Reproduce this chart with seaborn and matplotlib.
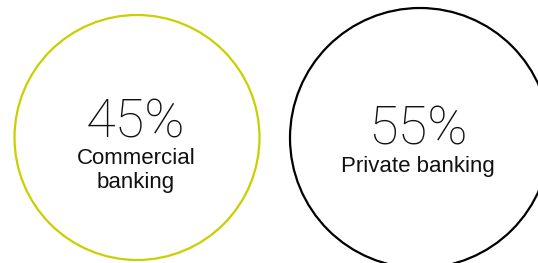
import matplotlib
matplotlib.use("Agg")
import matplotlib.pyplot as plt
from matplotlib.patches import Circle
import seaborn as sns

# Data
categories = ["Commercial\nbanking", "Private banking"]
shares = [45, 55]
colors = ["#c8d000", "#000000"]

sns.set_theme(style="white")
plt.rcParams["font.family"] = ["Liberation Sans", "DejaVu Sans"]

fig = plt.figure(figsize=(5.38, 2.63), dpi=100)
ax = fig.add_axes([0, 0, 1, 1])
ax.set_xlim(0, 538)
ax.set_ylim(263, 0)
ax.set_aspect("equal")
ax.axis("off")

# layout: circle centres/radii, text positions
centres = [(137, 137.5), (420, 138)]
radii = [122.5, 130]
text_x = [136, 418]
pct_y = [122.5, 130]
lab_y = [148, 156]

for i, (cat, val) in enumerate(zip(categories, shares)):
    cx, cy = centres[i]
    ax.add_patch(Circle((cx, cy), radii[i], fill=False, edgecolor=colors[i],
                        linewidth=1.6, clip_on=True))
    ax.text(text_x[i], pct_y[i], f"{val}%", ha="center", va="center",
            fontsize=39, fontfamily=["Roboto", "DejaVu Sans"],
            fontweight="light", color="#111111")
    ax.text(text_x[i], lab_y[i], cat, ha="center", va="top", fontsize=16,
            linespacing=1.2, color="#111111")

fig.savefig("out.png", dpi=100)
